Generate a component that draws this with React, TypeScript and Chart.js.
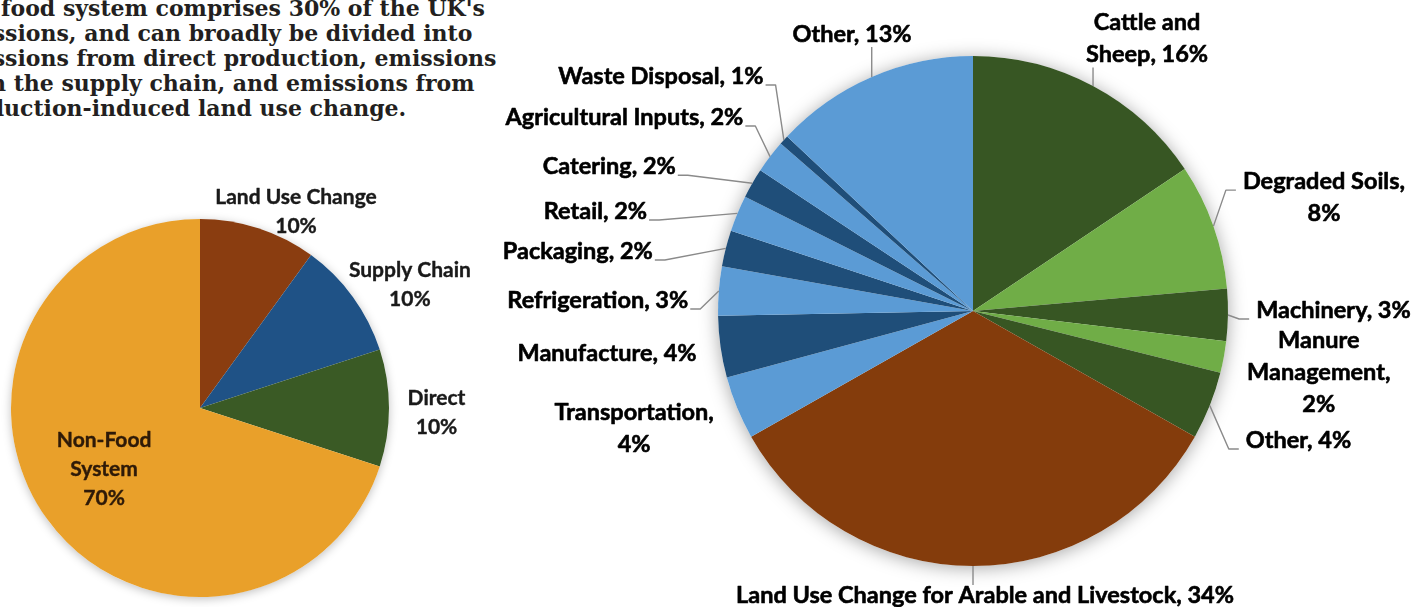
import React, { useEffect, useRef } from "react";
import { Chart, registerables } from "chart.js";

Chart.register(...registerables);

// ---------- Intro paragraph ----------
const introLines = [
  "The food system comprises 30% of the UK's",
  "emissions, and can broadly be divided into",
  "emissions from direct production, emissions",
  "from the supply chain, and emissions from",
  "production-induced land use change.",
];

// ---------- Left pie: share of UK emissions ----------
const overviewCategories = ["Land Use Change", "Supply Chain", "Direct", "Non-Food System"];
const overviewValues = [10, 10, 10, 70];
const overviewLabelLines = [
  ["Land Use Change", "10%"],
  ["Supply Chain", "10%"],
  ["Direct", "10%"],
  ["Non-Food", "System", "70%"],
];
const overviewColors = ["#8a3d10", "#1f5286", "#3a5a25", "#e9a02a"];

// ---------- Right pie: food system breakdown ----------
const foodCategories = [
  "Cattle and Sheep",
  "Degraded Soils",
  "Machinery",
  "Manure Management",
  "Other",
  "Land Use Change for Arable and Livestock",
  "Transportation",
  "Manufacture",
  "Refrigeration",
  "Packaging",
  "Retail",
  "Catering",
  "Agricultural Inputs",
  "Waste Disposal",
  "Other",
];
const foodValues = [15.6, 8, 3.3, 2, 4.3, 33.6, 4, 3.9, 3.1, 2.3, 2.3, 1.9, 2.1, 0.6, 13];
const foodPercentLabels = ["16%", "8%", "3%", "2%", "4%", "34%", "4%", "4%", "3%", "2%", "2%", "2%", "2%", "1%", "13%"];
const foodLabelLines = [
  ["Cattle and", "Sheep, 16%"],
  ["Degraded Soils,", "8%"],
  ["Machinery, 3%"],
  ["Manure", "Management,", "2%"],
  ["Other, 4%"],
  ["Land Use Change for Arable and Livestock, 34%"],
  ["Transportation,", "4%"],
  ["Manufacture, 4%"],
  ["Refrigeration, 3%"],
  ["Packaging, 2%"],
  ["Retail, 2%"],
  ["Catering, 2%"],
  ["Agricultural Inputs, 2%"],
  ["Waste Disposal, 1%"],
  ["Other, 13%"],
];
const DG = "#375623";
const LG = "#70ad47";
const BR = "#843c0c";
const LB = "#5b9bd5";
const DB = "#1f4e79";
const foodColors = [DG, LG, DG, LG, DG, BR, LB, DB, LB, DB, LB, DB, LB, DB, LB];

// ---------- label layout (styling, offsets from slice outer mid-point) ----------
const foodLabelOffsets: [number, number][] = [
  [54, -47.5],
  [110.5, -29],
  [105.5, -5],
  [95, 15],
  [88.7, 34.4],
  [12, 29],
  [-103, 21],
  [-113.5, 6],
  [-121, 9],
  [-148, 2.6],
  [-142, -2.4],
  [-143, -17],
  [-145.6, -39.6],
  [-123, -64],
  [-19.7, -43],
];
const foodLeaders = [true, true, true, false, true, true, false, false, true, true, true, true, true, true, true];
const overviewLabelOffsets: [number, number][] = [
  [37.6, -16.3],
  [57, -12.4],
  [47.5, 4.5],
  [57, -50],
];

type LabelCfg = {
  lines: string[][];
  offsets: [number, number][];
  leaders?: boolean[];
  font: string;
  lineHeight: number;
  colors: string[];
  embolden: number;
  shadowColor: string;
  shadowBlur: number;
};

function makeLabelPlugin(cfg: LabelCfg) {
  return {
    id: "sliceLabels",
    beforeDatasetsDraw(chart: any) {
      const meta = chart.getDatasetMeta(0);
      const a = meta.data[0];
      if (!a) return;
      const ctx = chart.ctx;
      ctx.save();
      ctx.shadowColor = cfg.shadowColor;
      ctx.shadowBlur = cfg.shadowBlur;
      ctx.shadowOffsetY = 2;
      ctx.fillStyle = "#ffffff";
      ctx.beginPath();
      ctx.arc(a.x, a.y, a.outerRadius, 0, Math.PI * 2);
      ctx.fill();
      ctx.restore();
    },
    afterDatasetsDraw(chart: any) {
      const ctx = chart.ctx;
      const meta = chart.getDatasetMeta(0);
      ctx.save();
      ctx.font = cfg.font;
      meta.data.forEach((arc: any, i: number) => {
        const mid = (arc.startAngle + arc.endAngle) / 2;
        const px = arc.x + arc.outerRadius * Math.cos(mid);
        const py = arc.y + arc.outerRadius * Math.sin(mid);
        const [dx, dy] = cfg.offsets[i];
        const cx = px + dx;
        const cy = py + dy;
        const lines = cfg.lines[i];
        const lh = cfg.lineHeight;
        const n = lines.length;
        const w = Math.max(...lines.map((l) => ctx.measureText(l).width));
        const top = cy - (n * lh) / 2;
        const x0 = cx - w / 2;
        const x1 = cx + w / 2;
        if (cfg.leaders && cfg.leaders[i]) {
          ctx.strokeStyle = "#8a8a8a";
          ctx.lineWidth = 1.4;
          ctx.beginPath();
          ctx.moveTo(px, py);
          if (px >= x0 - 4 && px <= x1 + 4) {
            const ey = py > cy ? top + n * lh - 3 : top + 6;
            ctx.lineTo(px, ey);
          } else {
            const ay = top + lh * 0.5 + 9;
            const leftSide = x1 < px;
            const ax = leftSide ? x1 + 2 : x0 - 7;
            const bx = leftSide ? ax + 10 : ax - 10;
            ctx.lineTo(bx, ay);
            ctx.lineTo(ax, ay);
          }
          ctx.stroke();
        }
        const color = cfg.colors[i] || cfg.colors[0];
        ctx.fillStyle = color;
        ctx.strokeStyle = color;
        ctx.lineWidth = cfg.embolden;
        ctx.lineJoin = "round";
        ctx.textAlign = "center";
        ctx.textBaseline = "middle";
        lines.forEach((l, k) => {
          const ty = top + lh * (k + 0.5);
          ctx.fillText(l, cx, ty);
          if (cfg.embolden > 0) ctx.strokeText(l, cx, ty);
        });
      });
      ctx.restore();
    },
  };
}

function PieCanvas(props: {
  width: number;
  height: number;
  left: number;
  top: number;
  labels: string[];
  values: number[];
  colors: string[];
  padding: { left: number; right: number; top: number; bottom: number };
  labelCfg: LabelCfg;
}) {
  const ref = useRef<HTMLCanvasElement | null>(null);
  useEffect(() => {
    if (!ref.current) return;
    const chart = new Chart(ref.current, {
      type: "pie",
      data: {
        labels: props.labels,
        datasets: [
          {
            data: props.values,
            backgroundColor: props.colors,
            borderWidth: 0,
          },
        ],
      },
      options: {
        responsive: false,
        animation: false,
        layout: { padding: props.padding },
        plugins: { legend: { display: false }, tooltip: { enabled: false } },
      },
      plugins: [makeLabelPlugin(props.labelCfg)],
    });
    return () => chart.destroy();
  }, []);
  return (
    <canvas
      ref={ref}
      width={props.width}
      height={props.height}
      style={{ position: "absolute", left: props.left, top: props.top, width: props.width, height: props.height }}
    />
  );
}

export default function App() {
  return (
    <div
      style={{
        position: "fixed",
        left: 0,
        top: 0,
        width: 1427,
        height: 607,
        overflow: "hidden",
        background: "#ffffff",
      }}
    >
      <div
        style={{
          position: "absolute",
          left: -53,
          top: -4,
          fontFamily: "'DejaVu Serif', serif",
          fontWeight: 700,
          fontSize: 22,
          lineHeight: "25px",
          color: "#231f20",
          whiteSpace: "pre",
        }}
      >
        {introLines.map((l, i) => (
          <div key={i}>{l}</div>
        ))}
      </div>
      <PieCanvas
        width={490}
        height={607}
        left={0}
        top={0}
        labels={overviewCategories}
        values={overviewValues}
        colors={overviewColors}
        padding={{ left: 11, right: 101, top: 219, bottom: 10 }}
        labelCfg={{
          lines: overviewLabelLines,
          offsets: overviewLabelOffsets,
          font: "bold 21px Lato",
          lineHeight: 29,
          colors: ["#1a1a1a", "#1a1a1a", "#1a1a1a", "#2e1a08"],
          embolden: 0.4,
          shadowColor: "rgba(0,0,0,0.25)",
          shadowBlur: 10,
        }}
      />
      <PieCanvas
        width={937}
        height={607}
        left={490}
        top={0}
        labels={foodCategories.map((c, i) => c + ", " + foodPercentLabels[i])}
        values={foodValues}
        colors={foodColors}
        padding={{ left: 228, right: 199, top: 56, bottom: 41 }}
        labelCfg={{
          lines: foodLabelLines,
          offsets: foodLabelOffsets,
          leaders: foodLeaders,
          font: "bold 23.5px Lato",
          lineHeight: 32,
          colors: ["#000000"],
          embolden: 0.6,
          shadowColor: "rgba(0,0,0,0.35)",
          shadowBlur: 18,
        }}
      />
    </div>
  );
}
